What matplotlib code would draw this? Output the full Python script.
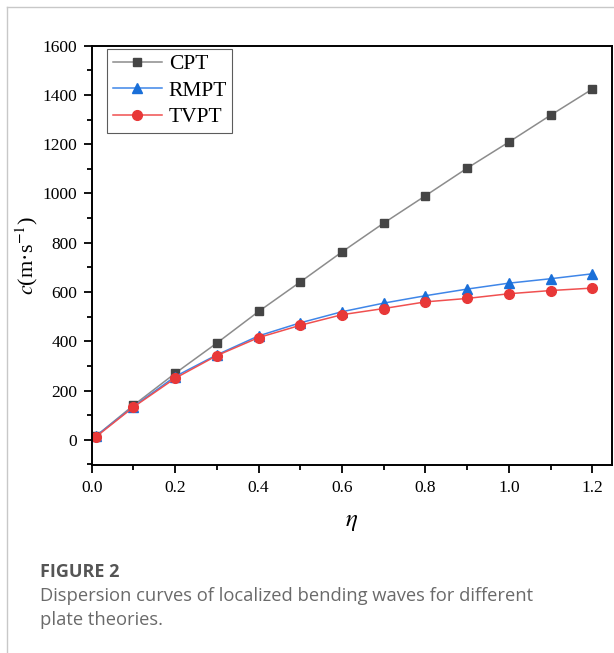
import matplotlib.pyplot as plt
from matplotlib.lines import Line2D
from matplotlib.ticker import MultipleLocator

eta = [0.01, 0.1, 0.2, 0.3, 0.4, 0.5, 0.6, 0.7, 0.8, 0.9, 1.0, 1.1, 1.2]
cpt = [15, 140, 270, 393, 521, 641, 763, 880, 991, 1103, 1209, 1318, 1424]
rmpt = [15, 135, 257, 345, 422, 475, 520, 555, 585, 612, 636, 654, 674]
tvpt = [12, 133, 250, 342, 415, 465, 508, 533, 560, 574, 593, 606, 616]

plt.rcParams['font.family'] = ['Liberation Serif', 'DejaVu Serif']
plt.rcParams['mathtext.fontset'] = 'stix'

fig = plt.figure(figsize=(6.14, 6.53), dpi=100)
ax = fig.add_axes([0.1494, 0.288, 0.8466, 0.642])

ax.plot(eta, cpt, color='#8c8c8c', lw=1.1, marker='s', ms=6.3,
        mfc='#454545', mec='#454545', label='CPT')
ax.plot(eta, rmpt, color='#3f86e8', lw=1.1, marker='^', ms=7.5,
        mfc='#1a6fd8', mec='#1a6fd8', label='RMPT')
ax.plot(eta, tvpt, color='#f05050', lw=1.1, marker='o', ms=7,
        mfc='#e83838', mec='#e83838', label='TVPT')

ax.set_xlim(0, 1.246)
ax.set_ylim(-102, 1600)
ax.xaxis.set_major_locator(MultipleLocator(0.2))
ax.xaxis.set_minor_locator(MultipleLocator(0.1))
ax.yaxis.set_major_locator(MultipleLocator(200))
ax.yaxis.set_minor_locator(MultipleLocator(100))
ax.xaxis.set_major_formatter(lambda v, p: '%.1f' % v)
ax.tick_params(which='major', length=5.5, width=1.3, labelsize=12.5, pad=5)
ax.tick_params(which='minor', length=3.5, width=1.3)
for s in ax.spines.values():
    s.set_linewidth(1.4)

ax.set_ylabel(r'$c$(m·s$^{-1}$)', fontsize=16, labelpad=2)
ax.set_xlabel(r'$\eta$', fontsize=18, labelpad=11)

leg = ax.legend(loc='upper left', bbox_to_anchor=(0.03, 0.993), fontsize=15.5,
                fancybox=False, edgecolor='#333333', handlelength=2.3,
                borderpad=0.25, labelspacing=0.3, handletextpad=0.3,
                borderaxespad=0.0)
leg.get_frame().set_linewidth(0.8)

# card border
fig.add_artist(Line2D([7 / 614, 1], [1 - 7 / 653, 1 - 7 / 653],
                      color='#c8c8c8', lw=1))
fig.add_artist(Line2D([7 / 614, 7 / 614], [0, 1 - 7 / 653],
                      color='#c8c8c8', lw=1))

fig.text(40 / 614, 1 - 572 / 653, 'FIGURE 2', fontsize=13, color='#555555',
         family='Open Sans', weight='bold', va='center')
fig.text(40 / 614, 1 - 596 / 653,
         'Dispersion curves of localized bending waves for different',
         fontsize=13.2, color='#6a6a6a', family='Open Sans', va='center')
fig.text(40 / 614, 1 - 620 / 653, 'plate theories.',
         fontsize=13.2, color='#6a6a6a', family='Open Sans', va='center')

fig.savefig('out.png', dpi=100)
